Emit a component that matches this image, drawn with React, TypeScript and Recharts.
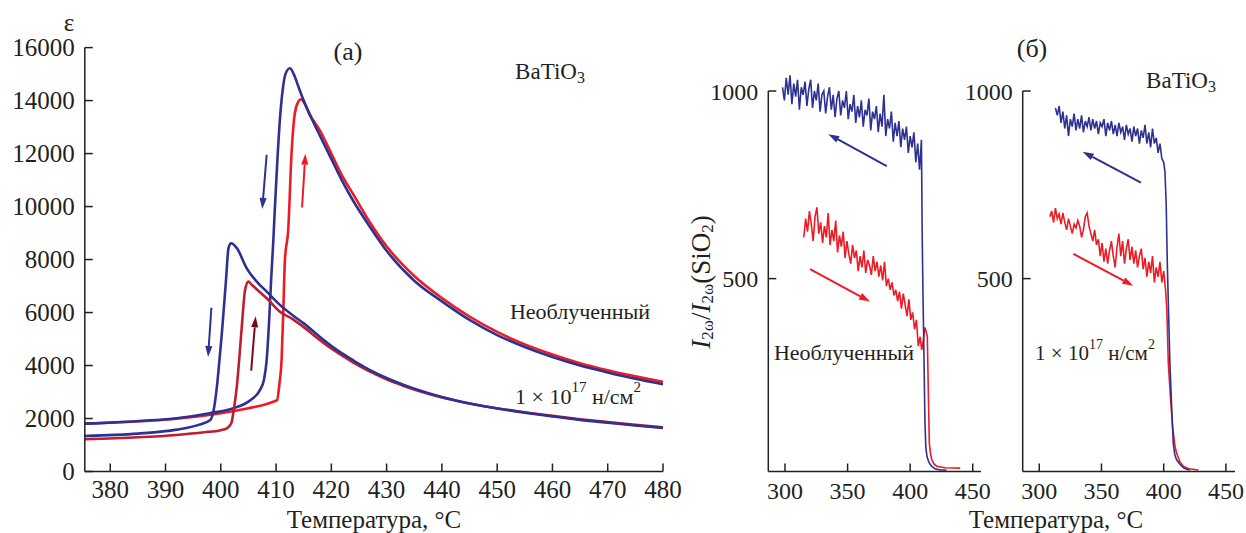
import React from "react";
import { LineChart, Line, XAxis, YAxis, ReferenceLine } from "recharts";

const FONT = '"Liberation Serif", "Times New Roman", serif';
const INK = "#231f20";
const BLUE = "#2e3192";
const RED = "#ed1c24";
const CRIMSON = "#be1e2d";
const DARK_RED = "#7a0c1a";

// (a) permittivity vs temperature
const epsUnirrCoolT = [375.4, 383, 392, 398, 402.3, 405.4, 407.1, 407.8, 408.3, 408.7, 409.1, 409.5, 409.8, 410.2, 410.7, 411.2, 411.7, 412.5, 413.2, 414, 415, 416.5, 418, 420, 422, 424, 427, 430, 435, 440, 445, 450, 455, 460, 465, 470, 475, 480];
const epsUnirrCool = [1800, 1880, 2010, 2200, 2390, 2700, 3080, 3450, 4200, 5500, 7200, 8700, 10000, 11600, 13300, 14400, 15000, 15220, 15000, 14550, 14000, 13300, 12650, 11800, 10950, 10200, 9230, 8330, 7200, 6420, 5720, 5150, 4700, 4320, 4000, 3740, 3500, 3290];

const epsUnirrHeatT = [375.4, 383, 392, 400, 405, 408, 409.5, 410.2, 410.6, 411, 411.3, 411.6, 412.2, 412.8, 413.4, 414, 414.5, 415, 416, 418, 420, 422, 424, 427, 430, 435, 440, 445, 450, 455, 460, 465, 470, 475, 480];
const epsUnirrHeat = [1810, 1870, 1990, 2200, 2390, 2530, 2635, 2700, 3300, 4210, 6000, 7980, 9120, 12010, 13520, 13950, 14050, 13950, 13500, 12850, 12000, 11150, 10450, 9400, 8500, 7380, 6550, 5850, 5270, 4800, 4420, 4090, 3820, 3590, 3380];

const epsIrrCoolT = [375.4, 385, 392, 396, 398.1, 398.7, 399.3, 399.8, 400.2, 400.9, 401.4, 401.85, 402.9, 404.7, 406.5, 408.3, 410.7, 413, 415, 418, 421, 424, 427, 430, 433, 436, 439, 442, 445, 450, 455, 460, 465, 470, 475, 480];
const epsIrrCool = [1340, 1430, 1580, 1760, 1945, 2300, 3200, 4300, 5230, 7100, 8430, 8615, 8430, 7670, 7165, 6790, 6290, 5900, 5590, 5070, 4590, 4190, 3830, 3530, 3280, 3060, 2870, 2710, 2570, 2380, 2220, 2080, 1950, 1840, 1735, 1640];

const epsIrrHeatT = [375.4, 385, 392, 397, 400, 401.1, 401.9, 402.4, 402.9, 403.4, 403.8, 404.4, 405, 405.6, 406.5, 408.3, 410.7, 413, 415, 418, 421, 424, 427, 430, 433, 436, 439, 442, 445, 450, 455, 460, 465, 470, 475, 480];
const epsIrrHeat = [1215, 1290, 1380, 1480, 1560, 1630, 1820, 2400, 3200, 4400, 5470, 6850, 7165, 7050, 6880, 6540, 6030, 5750, 5450, 4950, 4500, 4110, 3770, 3480, 3240, 3030, 2850, 2700, 2570, 2390, 2235, 2100, 1975, 1865, 1760, 1665];

const epsTicksX = [380, 390, 400, 410, 420, 430, 440, 450, 460, 470, 480];
const epsTicksY = [0, 2000, 4000, 6000, 8000, 10000, 12000, 14000, 16000];

// arrows in (a): [from, to] in data units
const epsArrowsBlue = [
  [[408.3, 11955], [407.5, 9910]],
  [[398.3, 6180], [397.7, 4322]],
];
const epsArrowRed = [[414.7, 9966], [415.3, 11997]];
const epsArrowDark = [[405.5, 3805], [406.3, 5860]];

// (б) SHG intensity, unirradiated
const shgUnirrCoolT = [298, 299.5, 301, 302.5, 304, 305.5, 307, 308.5, 310, 311.5, 313, 314.5, 316, 317.5, 319, 320.5, 322, 323.5, 325, 326.5, 328, 329.5, 331, 332.5, 334, 335.5, 337, 338.5, 340, 341.5, 343, 344.5, 346, 347.5, 349, 350.5, 352, 353.5, 355, 356.5, 358, 359.5, 361, 362.5, 364, 365.5, 367, 368.5, 370, 371.5, 373, 374.5, 376, 377.5, 379, 380.5, 382, 383.5, 385, 386.5, 388, 389.5, 391, 392.5, 394, 395.5, 397, 398.5, 400, 401.5, 403, 404.5, 406, 407.5, 409, 409.6, 410.2, 411, 411.8, 412.5, 413.5, 415, 417, 420, 424, 429];
const shgUnirrCool = [1010, 975, 1035, 990, 1042, 965, 1020, 985, 1030, 950, 1010, 990, 1025, 960, 1005, 1030, 955, 1000, 975, 1020, 945, 990, 1000, 940, 985, 1010, 950, 990, 930, 980, 1000, 935, 975, 955, 1000, 925, 965, 945, 990, 915, 960, 930, 975, 905, 950, 935, 980, 895, 945, 925, 960, 890, 940, 905, 990, 880, 925, 900, 945, 865, 915, 880, 920, 850, 900, 870, 905, 835, 880, 850, 890, 810, 860, 790, 870, 620, 470, 300, 120, 50, 25, 10, 0, -7, -10, -10];

const shgUnirrHeatT = [315, 316.5, 318, 319.5, 321, 322.5, 324, 325.5, 327, 328.5, 330, 331.5, 333, 334.5, 336, 337.5, 339, 340.5, 342, 343.5, 345, 346.5, 348, 349.5, 351, 352.5, 354, 355.5, 357, 358.5, 360, 361.5, 363, 364.5, 366, 367.5, 369, 370.5, 372, 373.5, 375, 376.5, 378, 379.5, 381, 382.5, 384, 385.5, 387, 388.5, 390, 391.5, 393, 394.5, 396, 397.5, 399, 400.5, 402, 403.5, 405, 406.5, 408, 409.2, 410.5, 411.8, 412.7, 413.7, 414.5, 415.3, 416.2, 417.2, 419, 421.2, 428, 440];
const shgUnirrHeat = [610, 660, 625, 680, 645, 600, 665, 690, 620, 650, 595, 640, 610, 675, 590, 630, 600, 655, 570, 615, 585, 625, 555, 600, 565, 540, 590, 555, 575, 520, 560, 530, 575, 515, 550, 535, 510, 560, 520, 545, 505, 535, 495, 545, 480, 500, 470, 490, 455, 470, 440, 465, 420, 460, 430, 400, 445, 390, 410, 365, 390, 320, 345, 310, 335, 370, 360, 346, 200, 62, 35, 18, 6, 0, -4, -5];

// (б) SHG intensity, 1e17 n/cm2
const shgIrrCoolT = [313, 314.5, 316, 317.5, 319, 320.5, 322, 323.5, 325, 326.5, 328, 329.5, 331, 332.5, 334, 335.5, 337, 338.5, 340, 341.5, 343, 344.5, 346, 347.5, 349, 350.5, 352, 353.5, 355, 356.5, 358, 359.5, 361, 362.5, 364, 365.5, 367, 368.5, 370, 371.5, 373, 374.5, 376, 377.5, 379, 380.5, 382, 383.5, 385, 386.5, 388, 389.5, 391, 392.5, 394, 395.5, 397, 398.5, 400, 401, 402, 402.9, 404, 405, 406.5, 407.7, 409, 410.4, 413, 416, 418.5, 421];
const shgIrrCool = [955, 935, 960, 915, 945, 900, 935, 880, 925, 905, 940, 895, 925, 900, 935, 890, 920, 905, 930, 895, 925, 900, 920, 885, 915, 905, 925, 880, 915, 895, 920, 885, 910, 880, 915, 890, 905, 870, 910, 885, 900, 865, 905, 880, 900, 860, 895, 875, 910, 860, 890, 850, 900, 860, 875, 835, 860, 820, 810, 785, 700, 541, 400, 275, 150, 61, 30, 17, 5, -4, -8, -10];

const shgIrrHeatT = [308.5, 310, 311.5, 313, 314.5, 316, 317.5, 319, 320.5, 322, 323.5, 325, 326.5, 328, 329.5, 331, 332.5, 334, 335.5, 337, 338.5, 340, 341.5, 343, 344.5, 346, 347.5, 349, 350.5, 352, 353.5, 355, 356.5, 358, 359.5, 361, 362.5, 364, 365.5, 367, 368.5, 370, 371.5, 373, 374.5, 376, 377.5, 379, 380.5, 382, 383.5, 385, 386.5, 388, 389.5, 391, 392.5, 394, 395.5, 397, 398.5, 400, 401.5, 402.5, 403.7, 405.5, 407.2, 409, 410.4, 413, 415.7, 420, 428];
const shgIrrHeat = [665, 680, 650, 688, 660, 672, 645, 675, 650, 630, 660, 640, 620, 645, 635, 655, 640, 610, 630, 665, 675, 640, 620, 600, 630, 590, 605, 560, 595, 545, 580, 540, 575, 600, 560, 530, 585, 620, 560, 600, 540, 580, 605, 550, 585, 540, 575, 530, 560, 580, 525, 555, 505, 545, 515, 560, 490, 530, 505, 545, 490, 520, 470, 420, 275, 180, 104, 55, 35, 12, 0, -7, -10];

const shgTicksX = [300, 350, 400, 450];
const shgTicksY = [500, 1000];

const shgArrowsL = { cool: [[381.3, 800], [334.6, 885]], heat: [[320, 525], [367.9, 439]] };
const shgArrowsR = { cool: [[381.7, 756], [334.9, 838]], heat: [[327.4, 566], [375.6, 481]] };

const zip = (t: number[], v: number[]) => t.map((x, i) => ({ t: x, v: v[i] }));

const arrowShape = (color: string, w: number) => (props: any) => {
  const { x1, y1, x2, y2 } = props;
  const a = Math.atan2(y2 - y1, x2 - x1);
  const len = 11;
  const half = 3.6;
  const bx = x2 - len * Math.cos(a);
  const by = y2 - len * Math.sin(a);
  const px = -Math.sin(a) * half;
  const py = Math.cos(a) * half;
  return (
    <g>
      <line x1={x1} y1={y1} x2={bx} y2={by} stroke={color} strokeWidth={w} />
      <polygon points={`${x2},${y2} ${bx + px},${by + py} ${bx - px},${by - py}`} fill={color} />
    </g>
  );
};

const seg = (s: number[][]) => s.map(([x, y]) => ({ x, y }));

const tickStyleA = { fill: INK, fontSize: 25, fontFamily: FONT };
const tickStyleB = { fill: INK, fontSize: 24, fontFamily: FONT };
const axisStroke = { stroke: INK, strokeWidth: 1.5 };
const W = 1246;
const H = 533;

function EpsPanel() {
  return (
    <LineChart width={W} height={H} margin={{ top: 47.6, right: W - 663, bottom: 0, left: 0 }}>
      <XAxis type="number" dataKey="t" domain={[375.4, 480]} allowDataOverflow ticks={epsTicksX} interval={0}
        height={61.5} tick={tickStyleA} axisLine={axisStroke} tickLine={axisStroke} tickSize={-8} tickMargin={17} />
      <YAxis type="number" domain={[0, 16000]} allowDataOverflow ticks={epsTicksY} interval={0}
        width={84.8} tick={tickStyleA} axisLine={axisStroke} tickLine={axisStroke} tickSize={-8} tickMargin={18} />
      <Line data={zip(epsUnirrHeatT, epsUnirrHeat)} dataKey="v" stroke={RED} strokeWidth={2.6} dot={false} type="monotoneX" isAnimationActive={false} />
      <Line data={zip(epsUnirrCoolT, epsUnirrCool)} dataKey="v" stroke={BLUE} strokeWidth={2.6} dot={false} type="monotoneX" isAnimationActive={false} />
      <Line data={zip(epsIrrHeatT, epsIrrHeat)} dataKey="v" stroke={CRIMSON} strokeWidth={2.6} dot={false} type="monotoneX" isAnimationActive={false} />
      <Line data={zip(epsIrrCoolT, epsIrrCool)} dataKey="v" stroke={BLUE} strokeWidth={2.6} dot={false} type="monotoneX" isAnimationActive={false} />
      {epsArrowsBlue.map((s, i) => (
        <ReferenceLine key={`ab${i}`} segment={seg(s)} ifOverflow="visible" shape={arrowShape(BLUE, 2)} />
      ))}
      <ReferenceLine segment={seg(epsArrowRed)} ifOverflow="visible" shape={arrowShape(RED, 2)} />
      <ReferenceLine segment={seg(epsArrowDark)} ifOverflow="visible" shape={arrowShape(DARK_RED, 2)} />
    </LineChart>
  );
}

function ShgPanel(props: {
  left: number; axisW: number; right: number; xDomain: number[];
  cool: { t: number; v: number }[]; heat: { t: number; v: number }[];
  arrows: { cool: number[][]; heat: number[][] };
}) {
  const { left, axisW, right, xDomain, cool, heat, arrows } = props;
  return (
    <LineChart width={W} height={H} margin={{ top: 61, right, bottom: 0, left }}>
      <XAxis type="number" dataKey="t" domain={xDomain} allowDataOverflow ticks={shgTicksX} interval={0}
        height={61.5} tick={tickStyleB} axisLine={axisStroke} tickLine={axisStroke} tickSize={-8} tickMargin={18} />
      <YAxis type="number" domain={[-14.1, 1080]} allowDataOverflow ticks={shgTicksY} interval={0}
        width={axisW} tick={tickStyleB} axisLine={false} tickLine={axisStroke} tickSize={-8} tickMargin={18} />
      <ReferenceLine segment={[{ x: xDomain[0], y: -14.1 }, { x: xDomain[0], y: 1000 }]} ifOverflow="visible" stroke={INK} strokeWidth={1.5} />
      <Line data={heat} dataKey="v" stroke={RED} strokeWidth={1.6} dot={false} type="linear" isAnimationActive={false} />
      <Line data={cool} dataKey="v" stroke={BLUE} strokeWidth={1.6} dot={false} type="linear" isAnimationActive={false} />
      <ReferenceLine segment={seg(arrows.cool)} ifOverflow="visible" shape={arrowShape(BLUE, 2)} />
      <ReferenceLine segment={seg(arrows.heat)} ifOverflow="visible" shape={arrowShape(RED, 2)} />
    </LineChart>
  );
}

const layer: React.CSSProperties = { position: "absolute", left: 0, top: 0 };

export default function App() {
  return (
    <div style={{ position: "absolute", left: 0, top: 0, width: W, height: H, background: "#fff", fontFamily: FONT }}>
      <div style={layer}><EpsPanel /></div>
      <div style={layer}>
        <ShgPanel left={690} axisW={78.3} right={W - 981} xDomain={[286.65, 456.6]}
          cool={zip(shgUnirrCoolT, shgUnirrCool)} heat={zip(shgUnirrHeatT, shgUnirrHeat)} arrows={shgArrowsL} />
      </div>
      <div style={layer}>
        <ShgPanel left={940} axisW={82.7} right={W - 1235} xDomain={[286.7, 457.3]}
          cool={zip(shgIrrCoolT, shgIrrCool)} heat={zip(shgIrrHeatT, shgIrrHeat)} arrows={shgArrowsR} />
      </div>
      <svg width={W} height={H} style={{ ...layer, pointerEvents: "none" }} fontFamily={FONT} fill={INK}>
        <text x={69} y={22} fontSize={25} textAnchor="middle" dominantBaseline="central">ε</text>
        <text x={348} y={51} fontSize={26} textAnchor="middle" dominantBaseline="central">(a)</text>
        <text x={550} y={71} fontSize={23} textAnchor="middle" dominantBaseline="central">
          BaTiO<tspan dy={6} fontSize={16}>3</tspan>
        </text>
        <text x={580} y={311} fontSize={22} textAnchor="middle" dominantBaseline="central">Необлученный</text>
        <text x={578} y={396} fontSize={22} textAnchor="middle" dominantBaseline="central">
          1 × 10<tspan dy={-9} fontSize={15}>17</tspan><tspan dy={9}> н/см</tspan><tspan dy={-9} fontSize={15}>2</tspan>
        </text>
        <text x={374} y={527.5} fontSize={25} textAnchor="middle">Температура, °C</text>

        <text x={1032} y={48} fontSize={26} textAnchor="middle" dominantBaseline="central">(б)</text>
        <text x={1181} y={80} fontSize={23} textAnchor="middle" dominantBaseline="central">
          BaTiO<tspan dy={6} fontSize={16}>3</tspan>
        </text>
        <text x={844} y={352} fontSize={22} textAnchor="middle" dominantBaseline="central">Необлученный</text>
        <text x={1095} y={353} fontSize={21} textAnchor="middle" dominantBaseline="central">
          1 × 10<tspan dy={-9} fontSize={14}>17</tspan><tspan dy={9}> н/см</tspan><tspan dy={-9} fontSize={14}>2</tspan>
        </text>
        <text x={1056} y={527.5} fontSize={25} textAnchor="middle">Температура, °C</text>
        <text transform="translate(701,282) rotate(-90)" fontSize={27} textAnchor="middle" dominantBaseline="central">
          <tspan fontStyle="italic">I</tspan><tspan dy={6} fontSize={17}>2ω</tspan>
          <tspan dy={-6}>/</tspan><tspan fontStyle="italic">I</tspan><tspan dy={6} fontSize={17}>2ω</tspan>
          <tspan dy={-6}>(SiO</tspan><tspan dy={6} fontSize={17}>2</tspan><tspan dy={-6}>)</tspan>
        </text>
      </svg>
    </div>
  );
}
